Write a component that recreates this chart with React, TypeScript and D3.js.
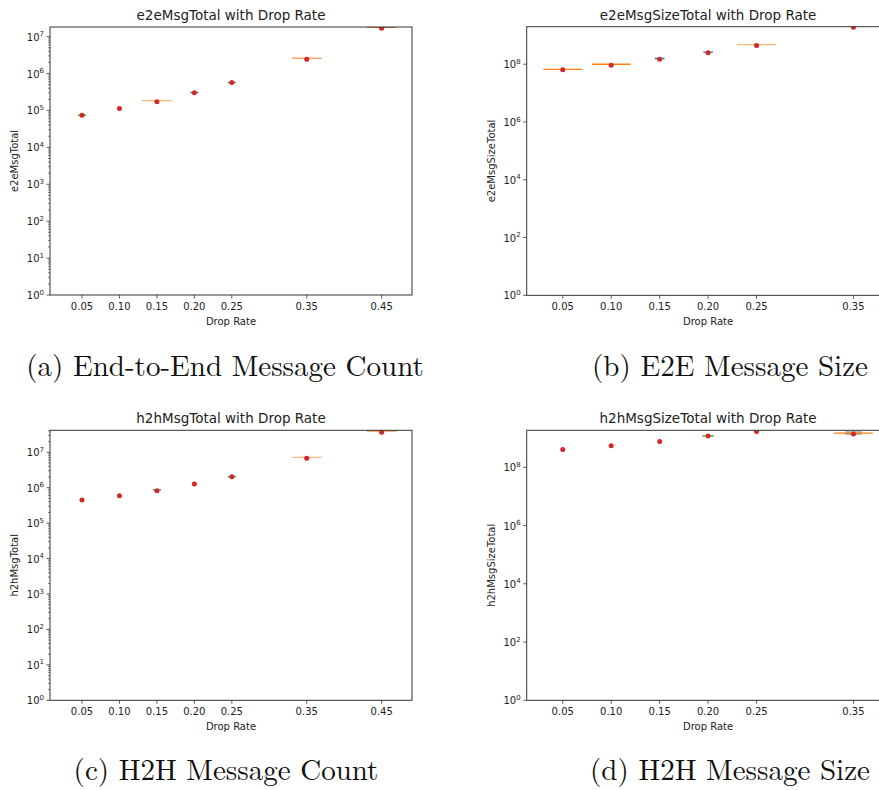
import React from "react";
import * as d3 from "d3";

// Drop rates tested per metric
const dropRatesCount = [0.05, 0.1, 0.15, 0.2, 0.25, 0.35, 0.45];
const dropRatesSize = [0.05, 0.1, 0.15, 0.2, 0.25, 0.35];

// End-to-end message count
const e2eMsgTotalMean = [7.4e4, 1.12e5, 1.73e5, 3.03e5, 5.67e5, 2.44e6, 1.69e7];
const e2eMsgTotalMedian = [7.4e4, 1.12e5, 1.84e5, 3.05e5, 5.67e5, 2.6e6, 1.8e7];

// End-to-end message size
const e2eMsgSizeTotalMean = [6.4e7, 9.3e7, 1.5e8, 2.48e8, 4.47e8, 1.9e9];
const e2eMsgSizeTotalMedian = [6.6e7, 1.0e8, 1.58e8, 2.63e8, 4.8e8, 1.9e9];

// Hop-to-hop message count
const h2hMsgTotalMean = [4.5e5, 5.96e5, 8.24e5, 1.27e6, 2.05e6, 6.77e6, 3.67e7];
const h2hMsgTotalMedian = [4.5e5, 5.96e5, 8.7e5, 1.27e6, 2.05e6, 7.2e6, 4.0e7];

// Hop-to-hop message size
const h2hMsgSizeTotalMean = [4.1e8, 5.5e8, 7.7e8, 1.18e9, 1.7e9, 1.38e9];
const h2hMsgSizeTotalMedian = [4.1e8, 5.5e8, 7.7e8, 1.2e9, 1.7e9, 1.5e9];
const h2hMsgSizeTotalQ1 = [4.1e8, 5.5e8, 7.7e8, 1.2e9, 1.7e9, 1.35e9];
const h2hMsgSizeTotalQ3 = [4.1e8, 5.5e8, 7.7e8, 1.2e9, 1.7e9, 1.66e9];

// Box widths (in drop-rate units) of each group
const e2eMsgTotalWidth = [0.011, 0, 0.04, 0.011, 0.011, 0.04, 0.04];
const e2eMsgSizeTotalWidth = [0.04, 0.04, 0.01, 0.01, 0.04, 0];
const h2hMsgTotalWidth = [0, 0, 0.011, 0, 0.011, 0.04, 0.04];
const h2hMsgSizeTotalWidth = [0, 0, 0, 0.012, 0, 0.04];

const ORANGE = "#ff7f0e";
const LIGHT_ORANGE = "#ffb77a";
const DARK_ORANGE = "#e0690a";
const GREEN = "#2ca02c";
const BLUE = "#1f77b4";

const e2eMsgTotalColor = [GREEN, GREEN, LIGHT_ORANGE, BLUE, GREEN, "#ff9a45", DARK_ORANGE];
const e2eMsgSizeTotalColor = [ORANGE, ORANGE, BLUE, BLUE, LIGHT_ORANGE, ORANGE];
const h2hMsgTotalColor = [BLUE, BLUE, BLUE, BLUE, GREEN, LIGHT_ORANGE, DARK_ORANGE];
const h2hMsgSizeTotalColor = [GREEN, GREEN, GREEN, GREEN, GREEN, ORANGE];

const FONT = "DejaVu Sans, sans-serif";

type PanelProps = {
  id: string;
  title: string;
  ylabel: string;
  xs: number[];
  mean: number[];
  median: number[];
  q1?: number[];
  q3?: number[];
  widths: number[];
  colors: string[];
  left: number;
  right: number;
  top: number;
  bottom: number;
  xDomain: [number, number];
  yTopExp: number;
  decadeStep: number;
  minor: boolean;
  maxExp: number;
};

function Panel(p: PanelProps) {
  const x = d3.scaleLinear().domain(p.xDomain).range([p.left, p.right]);
  const y = d3.scaleLog().domain([1, Math.pow(10, p.yTopExp)]).range([p.bottom, p.top]);
  const exps = d3.range(0, p.maxExp + 1, p.decadeStep);
  const minorTicks: number[] = [];
  if (p.minor) {
    for (let e = 0; e <= Math.floor(p.yTopExp); e++) {
      for (let k = 2; k <= 9; k++) {
        const v = k * Math.pow(10, e);
        if (v < Math.pow(10, p.yTopExp)) minorTicks.push(v);
      }
    }
  }
  const cx = (p.left + p.right) / 2;
  const cy = (p.top + p.bottom) / 2;
  const clipId = `clip-${p.id}`;
  return (
    <g>
      <defs>
        <clipPath id={clipId}>
          <rect x={p.left} y={p.top} width={p.right - p.left} height={p.bottom - p.top} />
        </clipPath>
      </defs>
      <g clipPath={`url(#${clipId})`}>
        {p.xs.map((d, i) => {
          const hw = p.widths[i] / 2;
          const lo = p.q1 ? p.q1[i] : p.median[i];
          const hi = p.q3 ? p.q3[i] : p.median[i];
          return (
            <g key={i}>
              {hi > lo && (
                <rect
                  x={x(d - 0.008)}
                  y={y(hi)}
                  width={x(d + 0.008) - x(d - 0.008)}
                  height={y(lo) - y(hi)}
                  fill="#b8b8b8"
                  stroke="#9a9a9a"
                  strokeWidth={0.8}
                />
              )}
              {hw > 0 && (
                <line
                  x1={x(d - hw)}
                  x2={x(d + hw)}
                  y1={y(p.median[i])}
                  y2={y(p.median[i])}
                  stroke={p.colors[i]}
                  strokeWidth={1.3}
                />
              )}
              <circle cx={x(d)} cy={y(p.mean[i])} r={2.5} fill="#d62728" />
            </g>
          );
        })}
      </g>
      {/* axes frame */}
      <rect
        x={p.left}
        y={p.top}
        width={p.right - p.left}
        height={p.bottom - p.top}
        fill="none"
        stroke="#333"
        strokeWidth={1}
      />
      {/* y minor ticks */}
      {minorTicks.map((v, i) => (
        <line key={i} x1={p.left - 2} x2={p.left} y1={y(v)} y2={y(v)} stroke="#333" strokeWidth={0.6} />
      ))}
      {/* y major ticks */}
      {exps.map((e) => {
        const yy = y(Math.pow(10, e));
        return (
          <g key={e}>
            <line x1={p.left - 3.5} x2={p.left} y1={yy} y2={yy} stroke="#333" strokeWidth={0.8} />
            <text x={p.left - 6} y={yy + 4} textAnchor="end" fontFamily={FONT} fontSize={10} fill="#222">
              10
              <tspan dy={-4.5} fontSize={7}>
                {e}
              </tspan>
            </text>
          </g>
        );
      })}
      {/* x ticks */}
      {p.xs.map((d) => (
        <g key={d}>
          <line x1={x(d)} x2={x(d)} y1={p.bottom} y2={p.bottom + 3.5} stroke="#333" strokeWidth={0.8} />
          <text x={x(d)} y={p.bottom + 15} textAnchor="middle" fontFamily={FONT} fontSize={10} fill="#222">
            {d3.format(".2f")(d)}
          </text>
        </g>
      ))}
      <text x={cx} y={p.bottom + 29.5} textAnchor="middle" fontFamily={FONT} fontSize={10} fill="#222">
        Drop Rate
      </text>
      <text
        transform={`translate(${p.left - 32},${cy}) rotate(-90)`}
        textAnchor="middle"
        fontFamily={FONT}
        fontSize={10}
        fill="#222"
      >
        {p.ylabel}
      </text>
      <text x={cx} y={p.top - 7} textAnchor="middle" fontFamily={FONT} fontSize={13.5} fill="#222">
        {p.title}
      </text>
    </g>
  );
}

const CAPTION_FONT = "'Latin Modern Roman', 'CMU Serif', 'DejaVu Serif', serif";

export default function App() {
  return (
    <svg
      width={879}
      height={790}
      style={{ position: "absolute", left: 0, top: 0, background: "#fff", display: "block" }}
    >
      <rect width={879} height={790} fill="#fff" />
      <Panel
        id="a"
        title="e2eMsgTotal with Drop Rate"
        ylabel="e2eMsgTotal"
        xs={dropRatesCount}
        mean={e2eMsgTotalMean}
        median={e2eMsgTotalMedian}
        widths={e2eMsgTotalWidth}
        colors={e2eMsgTotalColor}
        left={50}
        right={412}
        top={27}
        bottom={295}
        xDomain={[0.0073, 0.4905]}
        yTopExp={7.26}
        decadeStep={1}
        minor={true}
        maxExp={7}
      />
      <Panel
        id="b"
        title="e2eMsgSizeTotal with Drop Rate"
        ylabel="e2eMsgSizeTotal"
        xs={dropRatesSize}
        mean={e2eMsgSizeTotalMean}
        median={e2eMsgSizeTotalMedian}
        widths={e2eMsgSizeTotalWidth}
        colors={e2eMsgSizeTotalColor}
        left={526.7}
        right={889.5}
        top={26.7}
        bottom={295.3}
        xDomain={[0.0128, 0.3872]}
        yTopExp={9.3}
        decadeStep={2}
        minor={false}
        maxExp={8}
      />
      <Panel
        id="c"
        title="h2hMsgTotal with Drop Rate"
        ylabel="h2hMsgTotal"
        xs={dropRatesCount}
        mean={h2hMsgTotalMean}
        median={h2hMsgTotalMedian}
        widths={h2hMsgTotalWidth}
        colors={h2hMsgTotalColor}
        left={50}
        right={412}
        top={430.3}
        bottom={700.3}
        xDomain={[0.0073, 0.4905]}
        yTopExp={7.62}
        decadeStep={1}
        minor={true}
        maxExp={7}
      />
      <Panel
        id="d"
        title="h2hMsgSizeTotal with Drop Rate"
        ylabel="h2hMsgSizeTotal"
        xs={dropRatesSize}
        mean={h2hMsgSizeTotalMean}
        median={h2hMsgSizeTotalMedian}
        q1={h2hMsgSizeTotalQ1}
        q3={h2hMsgSizeTotalQ3}
        widths={h2hMsgSizeTotalWidth}
        colors={h2hMsgSizeTotalColor}
        left={526.7}
        right={889.5}
        top={430.3}
        bottom={700.3}
        xDomain={[0.0128, 0.3872]}
        yTopExp={9.27}
        decadeStep={2}
        minor={false}
        maxExp={8}
      />
      <g fontFamily={CAPTION_FONT} fontSize={29} fill="#111" textAnchor="middle">
        <text x={225} y={376}>(a) End-to-End Message Count</text>
        <text x={730} y={376}>(b) E2E Message Size</text>
        <text x={226} y={780}>(c) H2H Message Count</text>
        <text x={730} y={780}>(d) H2H Message Size</text>
      </g>
    </svg>
  );
}
